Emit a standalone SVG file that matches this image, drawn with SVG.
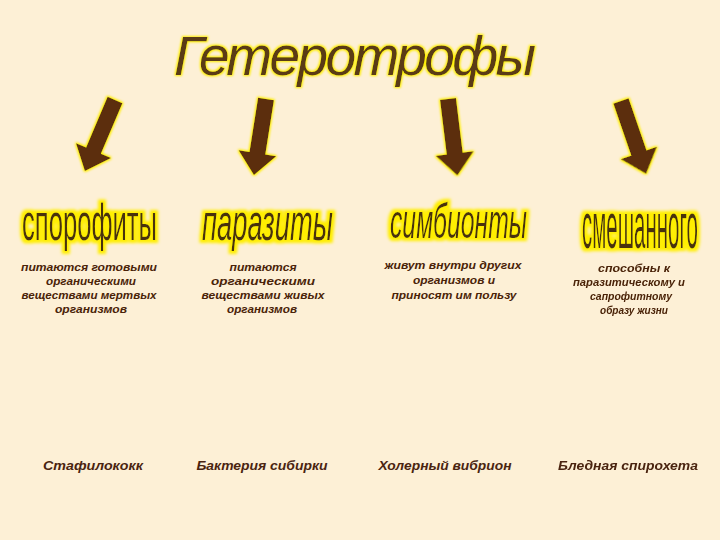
<svg xmlns="http://www.w3.org/2000/svg" width="720" height="540" viewBox="0 0 720 540">
<style>
.bg{fill:#fdf0d6}
.title{font-family:"Liberation Sans",Arial,sans-serif;font-style:italic;font-size:55px;fill:#5a3a12}
.cat{font-family:"Liberation Sans",Arial,sans-serif;fill:#4a3210}
.desc{font-family:"Liberation Sans",Arial,sans-serif;font-style:italic;font-weight:bold;font-size:11px;fill:#4a2308;text-anchor:middle}
.ex{font-family:"Liberation Sans",Arial,sans-serif;font-style:italic;font-weight:bold;font-size:13px;fill:#4a2410;text-anchor:middle}
.arrow{fill:#5c2e0b}
</style>
<defs>
<filter id="glow" x="-20%" y="-30%" width="140%" height="160%">
<feMorphology in="SourceAlpha" operator="dilate" radius="2.5" result="d"/>
<feGaussianBlur in="d" stdDeviation="1.5" result="b"/>
<feFlood flood-color="#ffee00"/>
<feComposite in2="b" operator="in" result="g"/>
<feMerge><feMergeNode in="g"/><feMergeNode in="SourceGraphic"/></feMerge>
</filter>
<filter id="glowS" x="-20%" y="-30%" width="140%" height="160%">
<feMorphology in="SourceAlpha" operator="dilate" radius="1.2" result="d"/>
<feGaussianBlur in="d" stdDeviation="1" result="b"/>
<feFlood flood-color="#ffee00"/>
<feComposite in2="b" operator="in" result="g"/>
<feMerge><feMergeNode in="g"/><feMergeNode in="SourceGraphic"/></feMerge>
</filter>
<polygon id="arr" points="-8,0 8,0 8,55 19,55 0,77 -19,55 -8,55"/>
</defs>
<rect class="bg" x="0" y="0" width="720" height="540"/>

<g id="title" filter="url(#glowS)">
<text class="title" x="174" y="75" textLength="362" lengthAdjust="spacing">Гетеротрофы</text>
</g>

<g id="connectors" class="arrow" filter="url(#glowS)">
<use href="#arr" transform="translate(115,100) rotate(23)"/>
<use href="#arr" transform="translate(266,99) rotate(9)"/>
<use href="#arr" transform="translate(448,99) rotate(-7)"/>
<use href="#arr" transform="translate(621,101) rotate(-19)"/>
</g>

<g id="sporophytes">
<g filter="url(#glow)"><text class="cat" transform="translate(22,240) scale(0.5,1)" x="0" y="0" font-size="52" textLength="270" lengthAdjust="spacingAndGlyphs">спорофиты</text></g>
<text class="desc" x="89" y="271" textLength="136" lengthAdjust="spacingAndGlyphs">питаются готовыми</text>
<text class="desc" x="91" y="285" textLength="90" lengthAdjust="spacingAndGlyphs">органическими</text>
<text class="desc" x="89" y="299" textLength="135" lengthAdjust="spacingAndGlyphs">веществами мертвых</text>
<text class="desc" x="91" y="313" textLength="72" lengthAdjust="spacingAndGlyphs">организмов</text>
<text class="ex" x="93" y="470" textLength="100" lengthAdjust="spacingAndGlyphs">Стафилококк</text>
</g>

<g id="parasites">
<g filter="url(#glow)"><text class="cat" transform="translate(202,240) scale(0.5,1)" x="0" y="0" font-size="52" font-style="italic" textLength="262" lengthAdjust="spacingAndGlyphs">паразиты</text></g>
<text class="desc" x="263" y="271" textLength="67" lengthAdjust="spacingAndGlyphs">питаются</text>
<text class="desc" x="263" y="285" textLength="104" lengthAdjust="spacingAndGlyphs">органическими</text>
<text class="desc" x="263" y="299" textLength="123" lengthAdjust="spacingAndGlyphs">веществами живых</text>
<text class="desc" x="262" y="313" textLength="70" lengthAdjust="spacingAndGlyphs">организмов</text>
<text class="ex" x="262" y="470" textLength="131" lengthAdjust="spacingAndGlyphs">Бактерия сибирки</text>
</g>

<g id="symbionts">
<g filter="url(#glow)"><text class="cat" transform="translate(390,238) scale(0.5,1)" x="0" y="0" font-size="48" font-style="italic" textLength="274" lengthAdjust="spacingAndGlyphs">симбионты</text></g>
<text class="desc" x="453" y="269" textLength="137" lengthAdjust="spacingAndGlyphs">живут внутри других</text>
<text class="desc" x="454" y="284" textLength="82" lengthAdjust="spacingAndGlyphs">организмов и</text>
<text class="desc" x="454" y="299" textLength="125" lengthAdjust="spacingAndGlyphs">приносят им пользу</text>
<text class="ex" x="445" y="470" textLength="133" lengthAdjust="spacingAndGlyphs">Холерный вибрион</text>
</g>

<g id="mixed">
<g filter="url(#glow)"><text class="cat" transform="translate(582,248) scale(0.35,1)" x="0" y="0" font-size="64" textLength="331" lengthAdjust="spacingAndGlyphs">смешанного</text></g>
<text class="desc" x="634" y="272" textLength="72" lengthAdjust="spacingAndGlyphs">способны к</text>
<text class="desc" x="629" y="286" textLength="112" lengthAdjust="spacingAndGlyphs">паразитическому и</text>
<text class="desc" x="631" y="300" textLength="82" lengthAdjust="spacingAndGlyphs">сапрофитному</text>
<text class="desc" x="634" y="314" textLength="68" lengthAdjust="spacingAndGlyphs">образу жизни</text>
<text class="ex" x="628" y="470" textLength="140" lengthAdjust="spacingAndGlyphs">Бледная спирохета</text>
</g>
</svg>
